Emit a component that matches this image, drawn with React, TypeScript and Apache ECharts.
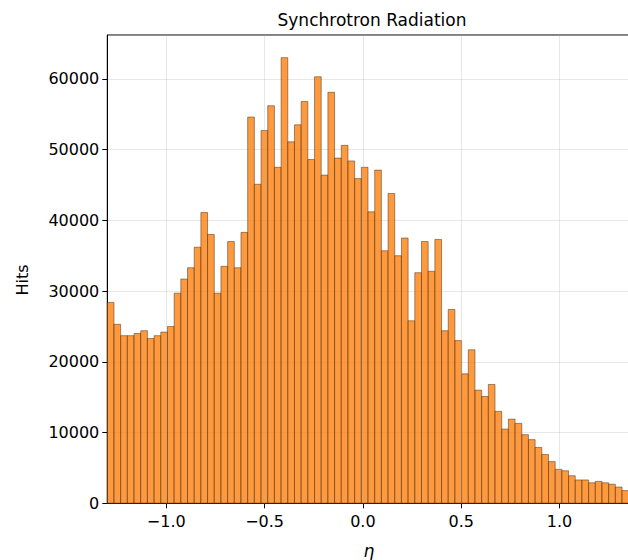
import React, { useEffect, useRef } from "react";
import * as echarts from "echarts";

const binStart = -1.3;
const binWidth = 0.034;
const counts: number[] = [
  28400, 25300, 23700, 23700, 24000, 24400, 23300, 23700, 24200, 25000,
  29700, 31700, 33300, 36200, 41100, 38000, 29700, 33500, 37000, 33300,
  38300, 54600, 45100, 52700, 56200, 47500, 63000, 51100, 53500, 56800,
  48600, 60300, 46400, 58100, 48800, 50600, 48400, 45900, 47500, 41200,
  47100, 35700, 43800, 35000, 37500, 25800, 32600, 37000, 32800, 37300,
  24400, 27400, 23000, 18300, 21700, 16000, 15100, 16800, 13000, 10500,
  11900, 11300, 9700, 9000, 7900, 6900, 5900, 4800, 4600, 3900,
  3300, 3300, 2900, 3100, 2900, 2700, 2300, 1800,
];
const xTicks: number[] = [-1.0, -0.5, 0.0, 0.5, 1.0];
const xMin = -1.3;
const xMax = 1.36;
const yMax = 66200;
const yInterval = 10000;
const titleText = "Synchrotron Radiation";
const yLabel = "Hits";
const xLabel = "η";

const FONT = "'DejaVu Sans', sans-serif";

export default function App() {
  const ref = useRef<HTMLDivElement>(null);
  useEffect(() => {
    if (!ref.current) return;
    const chart = echarts.init(ref.current, undefined, { renderer: "svg" });
    const histData = counts.map((c, i) => [
      binStart + i * binWidth,
      binStart + (i + 1) * binWidth,
      c,
    ]);
    const fmt = (v: number) =>
      (v < 0 ? "\u2212" : "") + Math.abs(v).toFixed(1);
    chart.setOption({
      animation: false,
      backgroundColor: "#ffffff",
      grid: {
        left: 107.3,
        top: 35,
        bottom: 56.7,
        right: 9.7,
        show: true,
        borderColor: "#000",
        borderWidth: 1,
        backgroundColor: "transparent",
      },
      graphic: [
        {
          type: "text",
          x: 372,
          y: 19.5,
          style: {
            text: titleText,
            font: `17px ${FONT}`,
            fill: "#000",
            textAlign: "center",
            textVerticalAlign: "middle",
            verticalAlign: "middle",
          },
        },
        {
          type: "text",
          x: 22,
          y: 280,
          rotation: Math.PI / 2,
          style: {
            text: yLabel,
            font: `16px ${FONT}`,
            fill: "#000",
            textAlign: "center",
            textVerticalAlign: "middle",
            verticalAlign: "middle",
          },
        },
        {
          type: "text",
          x: 369,
          y: 551,
          style: {
            text: xLabel,
            font: `italic 17px ${FONT}`,
            fill: "#000",
            textAlign: "center",
            textVerticalAlign: "middle",
            verticalAlign: "middle",
          },
        },
      ],
      xAxis: {
        type: "value",
        min: xMin,
        max: xMax,
        axisLine: { show: true, onZero: false, lineStyle: { color: "#000", width: 1 } },
        axisTick: {
          show: true,
          length: 5,
          customValues: xTicks,
          lineStyle: { color: "#000", width: 1 },
        },
        axisLabel: {
          customValues: xTicks,
          formatter: fmt,
          color: "#000",
          fontFamily: "DejaVu Sans",
          fontSize: 16,
          margin: 10,
        },
        splitLine: { show: false },
      },
      yAxis: {
        type: "value",
        min: 0,
        max: yMax,
        interval: yInterval,
        axisLine: { show: true, onZero: false, lineStyle: { color: "#000", width: 1 } },
        axisTick: { show: true, length: 5, lineStyle: { color: "#000", width: 1 } },
        axisLabel: {
          color: "#000",
          fontFamily: "DejaVu Sans",
          fontSize: 16,
          margin: 8,
          showMaxLabel: false,
          formatter: (v: number) => String(Math.round(v)),
        },
        splitLine: {
          show: true,
          lineStyle: { color: "#b0b0b0", opacity: 0.3, width: 1 },
        },
      },
      series: [
        {
          type: "line",
          data: [],
          z: 1,
          markLine: {
            silent: true,
            symbol: ["none", "none"],
            label: { show: false },
            lineStyle: { color: "#b0b0b0", opacity: 0.3, width: 1, type: "solid" },
            data: xTicks.map((v) => ({ xAxis: v })),
          },
        },
        {
          type: "custom",
          z: 2,
          data: histData,
          encode: { x: [0, 1], y: 2 },
          renderItem: (params: any, api: any) => {
            const x0 = api.value(0);
            const x1 = api.value(1);
            const y = api.value(2);
            const p0 = api.coord([x0, y]);
            const p1 = api.coord([x1, 0]);
            return {
              type: "rect",
              shape: {
                x: p0[0],
                y: p0[1],
                width: p1[0] - p0[0],
                height: p1[1] - p0[1],
              },
              style: {
                fill: "rgba(255,127,14,0.8)",
                stroke: "rgba(60,40,20,0.6)",
                lineWidth: 0.8,
              },
            };
          },
        },
      ],
    });
    return () => chart.dispose();
  }, []);
  return (
    <div
      style={{
        position: "absolute",
        left: 0,
        top: 0,
        width: 628,
        height: 560,
        overflow: "hidden",
        background: "#fff",
      }}
    >
      <div ref={ref} style={{ width: 640, height: 560 }} />
    </div>
  );
}
